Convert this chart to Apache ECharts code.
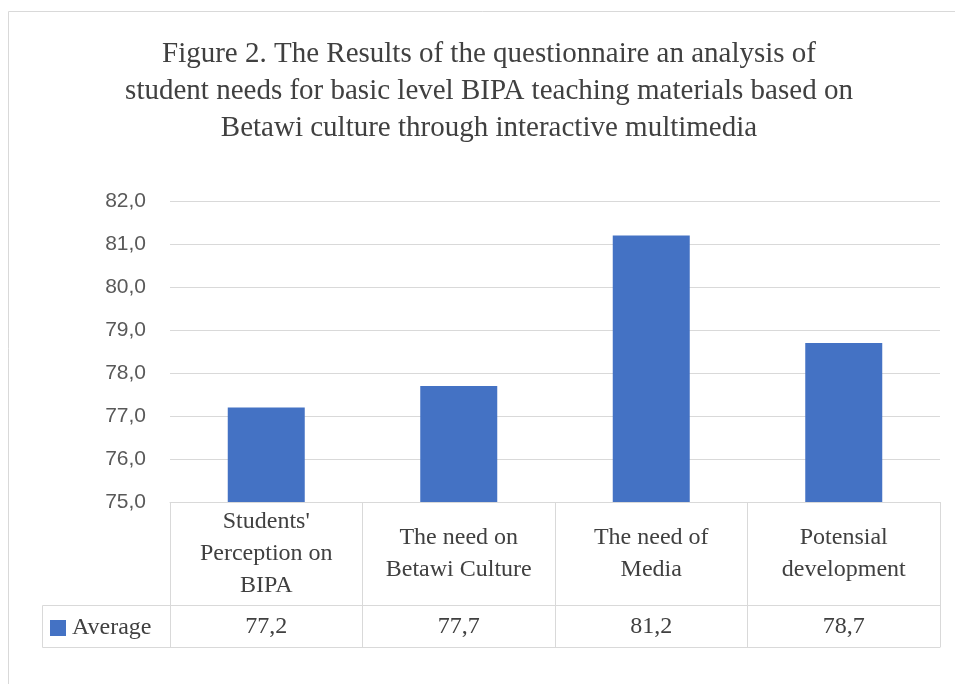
<!DOCTYPE html>
<html>
<head>
<meta charset="utf-8">
<script src="https://cdn.jsdelivr.net/npm/echarts@6/dist/echarts.min.js"></script>
<style>
  html, body { margin: 0; padding: 0; background: #fff; }
  #main { width: 955px; height: 684px; }
</style>
</head>
<body>
<div id="main"></div>
<script>
var categories = ["Students'\nPerception on\nBIPA", 'The need on\nBetawi Culture', 'The need of\nMedia', 'Potensial\ndevelopment']
var values = [77.2, 77.7, 81.2, 78.7]
var seriesName = 'Average'
var titleLines = [
  'Figure 2. The Results of the questionnaire an analysis of',
  'student needs for basic level BIPA teaching materials based on',
  'Betawi culture through interactive multimedia'
]

var serif = 'Liberation Serif'
var lineColor = '#d9d9d9'
var textColor = '#404040'

function comma(v) {
  return v.toFixed(1).replace('.', ',')
}

var chart = echarts.init(document.getElementById('main'))

var option = {
  animation: false,
  title: {
    text: titleLines.join('\n'),
    left: 484,
    top: 31,
    textAlign: 'center',
    textStyle: {
      fontFamily: serif,
      fontWeight: 'normal',
      fontSize: 29,
      lineHeight: 37,
      color: textColor
    }
  },
  legend: {
    data: [seriesName],
    left: 45,
    top: 611,
    icon: 'rect',
    itemWidth: 16,
    itemHeight: 16,
    textStyle: { fontFamily: serif, fontSize: 24, color: textColor, padding: [0, 0, 0, 1] }
  },
  grid: {
    left: 170,
    right: 15,
    top: 201,
    bottom: 182
  },
  xAxis: [
    {
      type: 'category',
      data: categories,
      axisLine: { lineStyle: { color: lineColor, width: 1 } },
      axisTick: { show: true, length: 145, lineStyle: { color: lineColor } },
      axisLabel: {
        interval: 0,
        margin: 52,
        verticalAlign: 'middle',
        fontFamily: serif,
        fontSize: 24,
        lineHeight: 32,
        color: textColor
      }
    },
    {
      type: 'category',
      data: categories,
      position: 'bottom',
      offset: 103,
      axisLine: { lineStyle: { color: lineColor, width: 1 } },
      axisTick: { show: false },
      axisLabel: {
        interval: 0,
        margin: 22,
        verticalAlign: 'middle',
        fontFamily: serif,
        fontSize: 24,
        color: textColor,
        formatter: function (v, i) { return comma(values[i]) }
      }
    },
    {
      type: 'category',
      data: categories,
      position: 'bottom',
      offset: 145,
      axisLine: { lineStyle: { color: lineColor, width: 1 } },
      axisTick: { show: false },
      axisLabel: { show: false }
    }
  ],
  yAxis: {
    type: 'value',
    min: 75,
    max: 82,
    interval: 1,
    axisLine: { show: false },
    axisTick: { show: false },
    splitLine: { lineStyle: { color: lineColor, width: 1 } },
    axisLabel: {
      margin: 24,
      fontFamily: 'Liberation Sans',
      fontSize: 21,
      color: '#595959',
      formatter: function (v) { return comma(v) }
    }
  },
  series: [
    {
      name: seriesName,
      type: 'bar',
      data: values,
      barWidth: '40%',
      itemStyle: { color: '#4472c4' }
    }
  ],
  graphic: [
    {
      type: 'rect',
      shape: { x: 8.5, y: 11.5, width: 980, height: 700 },
      style: { fill: null, stroke: lineColor, lineWidth: 1 },
      silent: true
    },
    {
      type: 'polyline',
      shape: { points: [[170, 605.5], [42.5, 605.5], [42.5, 647.5], [170, 647.5]] },
      style: { fill: null, stroke: lineColor, lineWidth: 1 },
      silent: true
    }
  ]
}

chart.setOption(option)
</script>
</body>
</html>
